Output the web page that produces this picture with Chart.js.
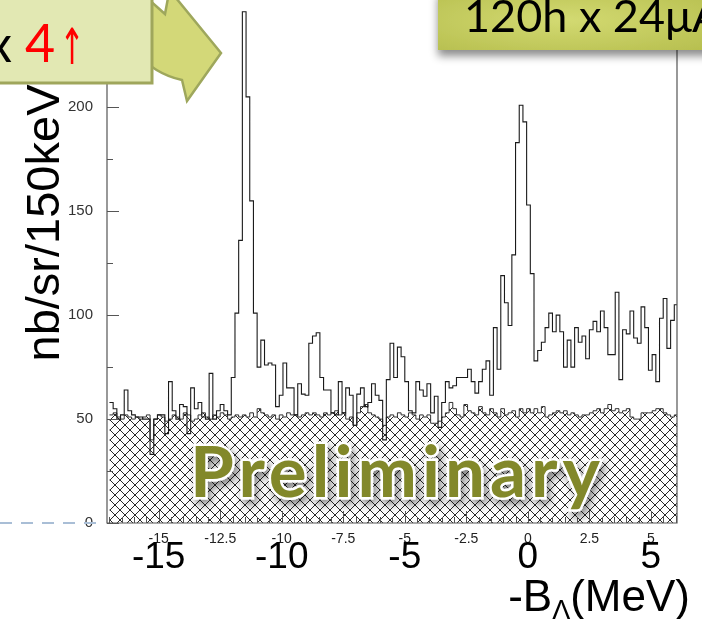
<!DOCTYPE html>
<html>
<head>
<title>Lambda binding energy spectrum</title>
<script src="https://cdn.jsdelivr.net/npm/chart.js"></script>
<style>
  body { margin: 0; width: 702px; height: 619px; overflow: hidden; position: relative; background: #fff; }
  #wrap { position: absolute; left: 0; top: -30px; width: 702px; height: 649px; }
  #deco { position: absolute; left: 0; top: 0; width: 702px; height: 619px; pointer-events: none; }
</style>
</head>
<body>
<div id="wrap"><canvas id="myChart" width="702" height="649"></canvas></div>
<svg id="deco" width="702" height="619" xmlns="http://www.w3.org/2000/svg">
  <defs>
    <radialGradient id="boxGrad" cx="0.45" cy="0.5" r="0.7">
      <stop offset="0" stop-color="#d3da72"/>
      <stop offset="1" stop-color="#b7bf4f"/>
    </radialGradient>
    <filter id="boxShadow" x="-10%" y="-20%" width="130%" height="160%">
      <feDropShadow dx="0" dy="6" stdDeviation="4" flood-color="#000" flood-opacity="0.45"/>
    </filter>
    <filter id="txtShadow" x="-5%" y="-20%" width="115%" height="160%">
      <feDropShadow dx="3" dy="5" stdDeviation="4" flood-color="#000" flood-opacity="0.5"/>
    </filter>
  </defs>
  <!-- y axis title -->
  <text transform="translate(59,223) rotate(-90)" text-anchor="middle" font-family="Liberation Sans" font-size="47" fill="#000">nb/sr/150keV</text>
  <!-- curved arrow -->
  <path d="M116,-2 C118,40 145,72 182,80 L187,101 L221,53 L176,-2 L168,-2 L165,14 L147,-2 Z"
        fill="#d3d878" stroke="#9ea75c" stroke-width="2.5" stroke-linejoin="miter"/>
  <!-- top-left box -->
  <rect x="-4" y="-4" width="156" height="87" fill="#e2e8b3" stroke="#9fa65c" stroke-width="3"/>
  <text x="-13" y="62" font-family="Lato" font-size="50" fill="#000">x</text>
  <text x="25" y="62" font-family="Lato" font-size="52" fill="#ff0000">4</text>
  <text transform="translate(72,64) scale(0.6,1)" text-anchor="middle" font-family="DejaVu Sans" font-size="50" fill="#ff0000">↑</text>
  <!-- top-right box -->
  <rect x="438" y="-10" width="280" height="60" fill="url(#boxGrad)" filter="url(#boxShadow)"/>
  <text x="464" y="32" font-family="Lato" font-size="45" fill="#000">120h x 24μA</text>
  <!-- preliminary stamp -->
  <text x="190" y="497" font-family="Lato" font-weight="700" font-size="71" letter-spacing="5"
        fill="#82882c" stroke="#fff" stroke-width="5" paint-order="stroke" filter="url(#txtShadow)">Preliminary</text>
  <!-- x axis title -->
  <text x="690" y="611" text-anchor="end" font-family="Liberation Sans" font-size="44" fill="#000">-B<tspan font-size="27" dy="8">Λ</tspan><tspan font-size="44" dy="-8">(MeV)</tspan></text>
  <!-- dashed line at left -->
  <line x1="0" y1="523" x2="100" y2="523" stroke="#a9bed6" stroke-width="2" stroke-dasharray="12 9"/>
</svg>
<script>
// histogram binning (-B_Lambda in MeV)
var binStart = -17.0;
var binWidth = 0.15;

// signal + background (open histogram), nb/sr/150keV
var fgCounts = [
  58, 55, 50, 52, 64, 54, 52, 51, 51, 50,
  50, 33, 50, 52, 52, 43, 68, 54, 50, 57,
  56, 43, 65, 55, 58, 51, 50, 72, 50, 54,
  57, 54, 52, 70, 101, 136, 246, 205, 155, 101,
  75, 88, 76, 77, 76, 56, 61.5, 77, 65, 65,
  52, 67, 62, 61.5, 86.5, 90, 91.5,
  70, 64, 64, 53, 52, 68, 53, 65, 61.5, 47,
  62, 65, 56, 58, 67, 61.5, 59, 40, 69, 86.5,
  70, 84.6, 80, 68, 54, 53, 68, 64, 61, 67,
  53, 61, 46, 58, 68, 65, 66, 70, 70, 70,
  74, 68, 62.5, 68, 74, 78, 61.5, 94, 74, 119,
  106, 95, 129, 183, 201, 193, 153, 120,
  78, 83, 87, 94, 101, 92, 100, 92, 75, 88,
  75, 94, 87, 90, 79, 93, 97, 92, 102, 94,
  81, 81, 111, 69, 93, 91, 102, 89, 86.5, 104,
  94, 73.5, 81, 68, 98.5, 108, 84, 97.5, 105
];

// accidental background (hatched histogram)
var bgCounts = [
  52, 53, 51, 50, 52, 51, 50, 51, 50, 51,
  52, 40, 50, 52, 51, 49, 50, 52, 51, 50,
  53, 52, 49, 50, 52, 53, 51, 50, 52, 51,
  53, 52, 50, 51, 52, 51,
  52, 51, 53, 51, 55, 53, 52, 51, 52, 50,
  52, 51, 53, 52, 52, 51, 52, 53, 52, 53,
  52, 51, 53, 52, 53, 54, 52, 53, 50, 51,
  47, 53, 56, 57, 53, 52, 51, 50, 47, 51,
  52, 51, 53, 52, 51, 53, 52, 50, 52, 51,
  52, 48, 48, 49, 51, 53, 58, 55, 52, 51,
  57, 54, 53, 52, 56, 53, 52, 55, 53, 51,
  55, 52, 53, 54, 51,
  55, 53, 55, 53, 55, 53, 56, 51, 52, 53,
  54, 53, 54, 52, 53, 52, 51, 52, 52, 53,
  54, 55, 53, 55, 57, 54, 55, 53, 54, 55,
  51, 50, 50, 53, 53, 53, 54, 55, 55, 53,
  52, 51, 52
];

var xMin = -17.1, xMax = 6.06;
var yMin = 0, yMax = 255;

function histPoints(counts) {
    var pts = [];
    for (var i = 0; i < counts.length; i++) {
        pts.push({x: binStart + i * binWidth, y: counts[i]});
    }
    pts.push({x: binStart + counts.length * binWidth, y: counts[counts.length - 1]});
    return pts;
}

function keepMultiples(step) {
    return function(scale) {
        scale.ticks = scale.ticks.filter(function(t) {
            var r = t.value / step;
            return Math.abs(r - Math.round(r)) < 1e-6;
        });
    };
}

// cross-hatch fill
var pc = document.createElement('canvas');
pc.width = 10; pc.height = 10;
var pctx = pc.getContext('2d');
pctx.strokeStyle = '#111';
pctx.lineWidth = 0.9;
pctx.beginPath();
pctx.moveTo(-1, -1); pctx.lineTo(11, 11);
pctx.moveTo(-1, 11); pctx.lineTo(11, -1);
pctx.stroke();

var ctx = document.getElementById('myChart').getContext('2d');
var hatch = ctx.createPattern(pc, 'repeat');

// frame and inward ticks like the original plot
var frameTicks = {
    id: 'frameTicks',
    afterDatasetsDraw: function(chart) {
        var c = chart.ctx, a = chart.chartArea;
        var xs = chart.scales.x, ys = chart.scales.y;
        c.save();
        c.strokeStyle = '#555';
        c.lineWidth = 1.2;
        c.beginPath();
        c.moveTo(a.left, a.top); c.lineTo(a.left, a.bottom);
        c.lineTo(a.right, a.bottom); c.lineTo(a.right, a.top);
        c.stroke();
        c.lineWidth = 1;
        c.beginPath();
        for (var v = 0; v <= ys.max; v += 25) {
            var py = Math.round(ys.getPixelForValue(v)) + 0.5;
            c.moveTo(a.left, py);
            c.lineTo(a.left + (v % 50 === 0 ? 12 : 6), py);
        }
        for (var k = Math.ceil(xs.min * 2); k <= xs.max * 2; k++) {
            var px = Math.round(xs.getPixelForValue(k / 2)) + 0.5;
            c.moveTo(px, a.bottom);
            c.lineTo(px, a.bottom - (k % 5 === 0 ? 12 : 6));
        }
        c.stroke();
        c.restore();
    }
};

var myChart = new Chart(ctx, {
    type: 'line',
    data: {
        datasets: [{
            label: 'data',
            data: histPoints(fgCounts),
            stepped: 'before',
            borderColor: '#1a1a1a',
            borderWidth: 1.1,
            pointRadius: 0,
            fill: false,
            order: 0
        }, {
            label: 'background',
            data: histPoints(bgCounts),
            stepped: 'before',
            borderColor: '#333',
            borderWidth: 1,
            pointRadius: 0,
            fill: 'origin',
            backgroundColor: hatch,
            order: 1
        }]
    },
    options: {
        responsive: false,
        animation: false,
        layout: { padding: { top: 12, right: 25, left: 0, bottom: 0 } },
        plugins: { legend: { display: false }, tooltip: { enabled: false } },
        scales: {
            x: {
                type: 'linear', position: 'bottom', weight: 0,
                min: xMin, max: xMax,
                ticks: { stepSize: 2.5, includeBounds: false, autoSkip: false, maxRotation: 0, padding: 8,
                         color: '#222', font: { family: 'Liberation Sans', size: 14 } },
                grid: { display: false, drawTicks: false },
                border: { display: false },
                afterBuildTicks: keepMultiples(2.5),
                afterFit: function(s) { s.height = 22; }
            },
            x2: {
                type: 'linear', position: 'bottom', weight: 1,
                min: xMin, max: xMax,
                ticks: { stepSize: 5, includeBounds: false, autoSkip: false, maxRotation: 0,
                         mirror: true, padding: -35,
                         color: '#000', font: { family: 'Liberation Sans', size: 37 } },
                grid: { display: false, drawTicks: false },
                border: { display: false },
                afterBuildTicks: keepMultiples(5),
                afterFit: function(s) { s.height = 74; }
            },
            y: {
                min: yMin, max: yMax,
                ticks: { stepSize: 50, includeBounds: false, padding: 14, color: '#333',
                         font: { family: 'Liberation Sans', size: 15 } },
                grid: { display: false, drawTicks: false },
                border: { display: false },
                afterBuildTicks: keepMultiples(50),
                afterFit: function(s) { s.width = 107; }
            }
        }
    },
    plugins: [frameTicks]
});
</script>
</body>
</html>
